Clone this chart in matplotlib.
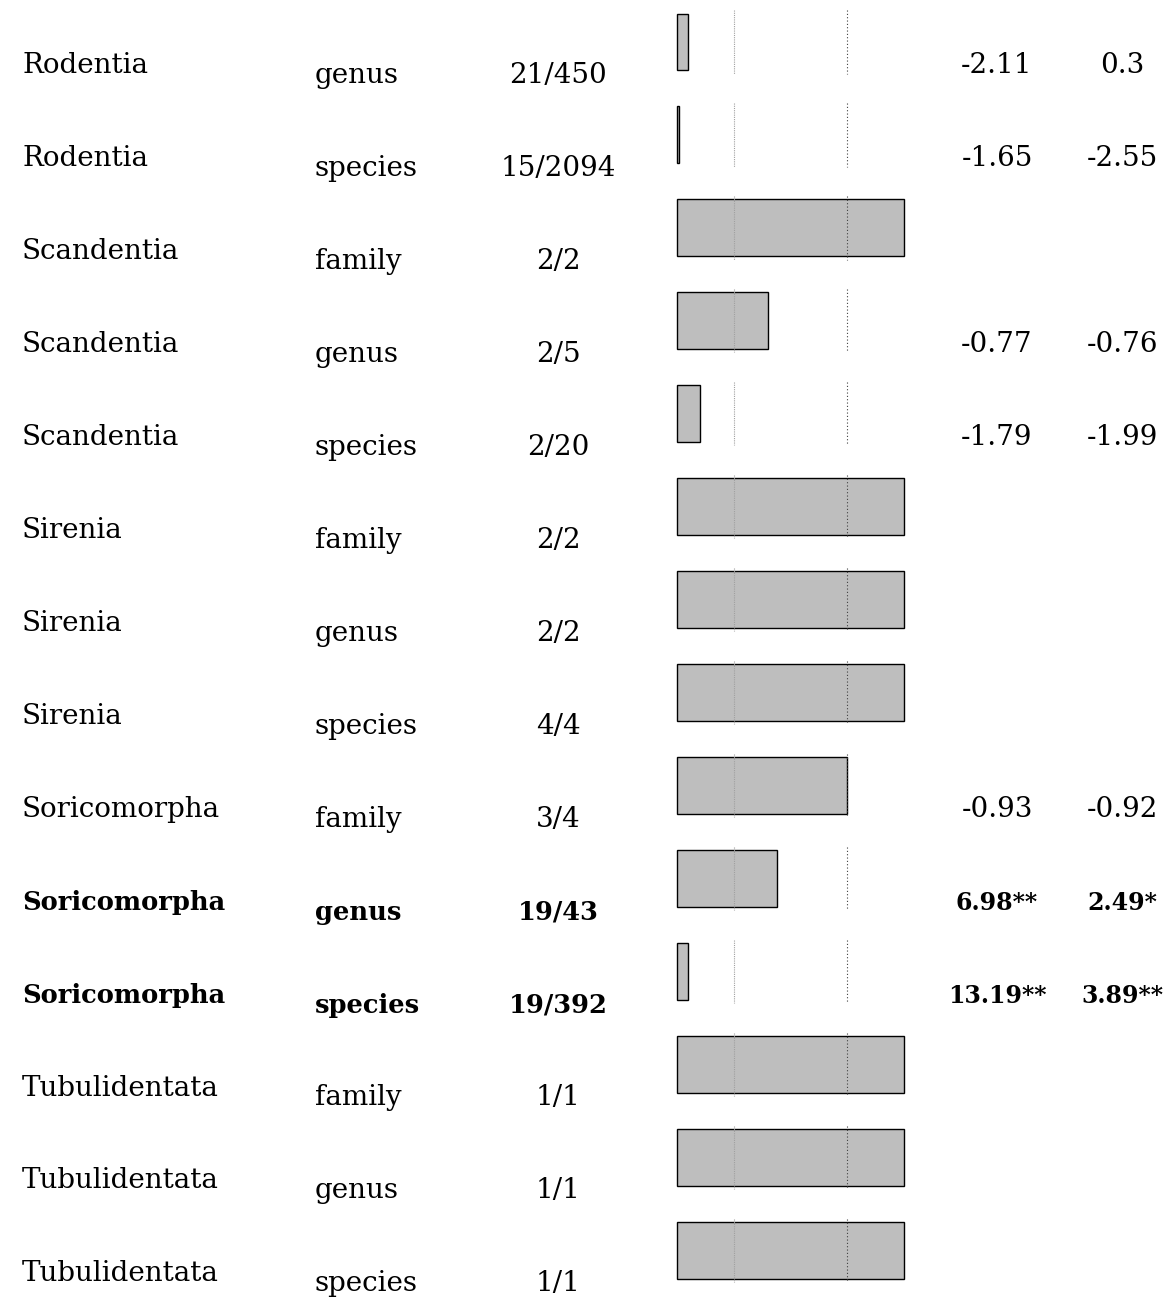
import matplotlib
matplotlib.use('Agg')
from matplotlib import pyplot as plt
from matplotlib import transforms
import numpy as np

plt.rcParams['font.family'] = 'DejaVu Serif'

orders = ['Rodentia', 'Rodentia', 'Scandentia', 'Scandentia', 'Scandentia',
          'Sirenia', 'Sirenia', 'Sirenia', 'Soricomorpha', 'Soricomorpha',
          'Soricomorpha', 'Tubulidentata', 'Tubulidentata', 'Tubulidentata']
ranks = ['genus', 'species', 'family', 'genus', 'species', 'family', 'genus',
         'species', 'family', 'genus', 'species', 'family', 'genus', 'species']
found = [21, 15, 2, 2, 2, 2, 2, 4, 3, 19, 19, 1, 1, 1]
total = [450, 2094, 2, 5, 20, 2, 2, 4, 4, 43, 392, 1, 1, 1]
stat1 = ['-2.11', '-1.65', '', '-0.77', '-1.79', '', '', '', '-0.93',
         '6.98**', '13.19**', '', '', '']
stat2 = ['0.3', '-2.55', '', '-0.76', '-1.99', '', '', '', '-0.92',
         '2.49*', '3.89**', '', '', '']
signif = [False]*9 + [True, True] + [False]*3

W, H = 1169, 1310
fig = plt.figure(figsize=(W/100, H/100), dpi=100)
ax = fig.add_axes([677/W, 0, 227/W, 1])
ax.set_xlim(0, 1)
step = 92.96
ax.set_ylim(H/step - 42/step, -42/step)
ax.axis('off')

rows = np.arange(len(orders))
frac = np.array(found)/np.array(total)
bars = ax.barh(rows, frac, height=0.613, left=0, color='#bebebe',
               edgecolor='black', linewidth=1.0, zorder=1)
for b in bars:
    b.set_clip_on(False)
# reference lines drawn per row
for r in rows:
    ax.vlines(0.25, r-0.34, r+0.34, colors='#a0a0a0', linestyles=(0, (1, 1)),
              linewidth=0.8, zorder=2)
    ax.vlines(0.75, r-0.34, r+0.34, colors='#404040', linestyles=(0, (1, 2)),
              linewidth=0.8, zorder=2)

tr = transforms.blended_transform_factory(fig.transFigure, ax.transData)
for r in rows:
    if signif[r]:
        w, fs = 'bold', 18.5
    else:
        w, fs = 'normal', 20
    ax.text(22/W, r+0.333, orders[r], transform=tr, ha='left', va='baseline',
            fontsize=fs, fontweight=w)
    ax.text(315/W, r+0.44, ranks[r], transform=tr, ha='left', va='baseline',
            fontsize=fs, fontweight=w)
    ax.text(558/W, r+0.44, '%d/%d' % (found[r], total[r]), transform=tr,
            ha='center', va='baseline', fontsize=fs, fontweight=w)
    ax.text(997/W, r+0.333, stat1[r], transform=tr, ha='center',
            va='baseline', fontsize=fs - (1.5 if signif[r] else 0), fontweight=w)
    ax.text(1122/W, r+0.333, stat2[r], transform=tr, ha='center',
            va='baseline', fontsize=fs - (1.5 if signif[r] else 0), fontweight=w)

fig.savefig('out.png', dpi=100)
